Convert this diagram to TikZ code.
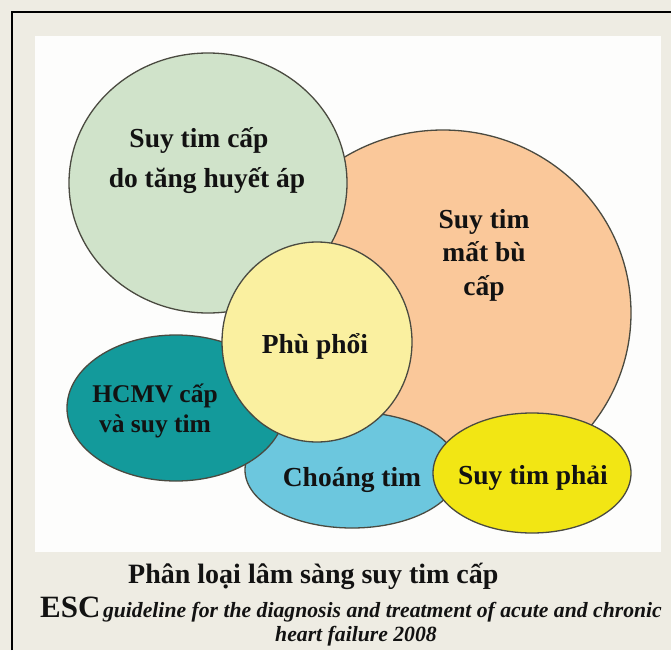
\documentclass[tikz,border=0pt]{standalone}
\usepackage{fontspec}
\setmainfont{Liberation Serif}
\usetikzlibrary{shapes.geometric}
\definecolor{bgcream}{HTML}{EEECE3}
\definecolor{panelwhite}{HTML}{FDFDFC}
\definecolor{edgecol}{HTML}{4A4A40}
\definecolor{greenfill}{HTML}{D0E3CA}
\definecolor{peachfill}{HTML}{FAC89A}
\definecolor{paleyellow}{HTML}{FAF0A0}
\definecolor{tealfill}{HTML}{139A9B}
\definecolor{bluefill}{HTML}{6CC7DE}
\definecolor{brightyellow}{HTML}{F2E614}
\definecolor{txtcol}{HTML}{121212}
\begin{document}
\begin{tikzpicture}[x=1pt,y=-1pt,
  blob/.style={ellipse, draw=edgecol, line width=1.3pt, inner sep=0pt},
  lbl/.style={font=\bfseries\fontsize{27.5}{40}\selectfont, align=center, text=txtcol, inner sep=0pt, anchor=base}]
\useasboundingbox (0,0) rectangle (671,650);
\fill[bgcream] (0,0) rectangle (671,650);
\fill[panelwhite] (35,36) rectangle (661,552);
\draw[line width=2.5pt] (12,650) -- (12,12) -- (671,12);
% shapes, back to front
\node[blob, fill=peachfill, minimum width=376pt, minimum height=366pt] (decomp) at (443,313) {};
\node[blob, fill=greenfill, minimum width=278pt, minimum height=260pt] (hyper) at (208,183) {};
\node[blob, fill=bluefill, minimum width=214pt, minimum height=116pt] (shock) at (352,470) {};
\node[blob, fill=tealfill, minimum width=218pt, minimum height=146pt] (acs) at (176,408) {};
\node[blob, fill=paleyellow, minimum width=190pt, minimum height=200pt] (edema) at (317,342) {};
\node[blob, fill=brightyellow, minimum width=198pt, minimum height=120pt] (right) at (532,473) {};
% labels (base anchor = baseline of the last line)
\node[lbl] (thyper) at (207,187) {Suy tim cấp\hspace*{16pt}\\do tăng huyết áp};
\node[lbl, font=\bfseries\fontsize{27.5}{33.5}\selectfont] (tdecomp) at (484,295) {Suy tim\\mất bù\\cấp};
\node[lbl] (tedema) at (315,353) {Phù phổi};
\node[lbl, font=\bfseries\fontsize{25.5}{30}\selectfont] (tacs) at (155,432) {HCMV cấp\\và suy tim};
\node[lbl] (tshock) at (352,486) {Choáng tim};
\node[lbl] (tright) at (533,484) {Suy tim phải};
% caption
\node[text=txtcol, inner sep=0pt, anchor=base west, font=\bfseries\fontsize{28}{30}\selectfont] (cap1) at (128,583) {Phân loại lâm sàng suy tim cấp};
\node[text=txtcol, inner sep=0pt, anchor=base west] (cap2) at (40,617) {{\bfseries\fontsize{31}{31}\selectfont ESC} {\bfseries\itshape\fontsize{21.7}{26}\selectfont guideline for the diagnosis and treatment of acute and chronic}};
\node[text=txtcol, inner sep=0pt, anchor=base, font=\bfseries\itshape\fontsize{21.7}{26}\selectfont] (cap3) at (356,641) {heart failure 2008};
\end{tikzpicture}
\end{document}
